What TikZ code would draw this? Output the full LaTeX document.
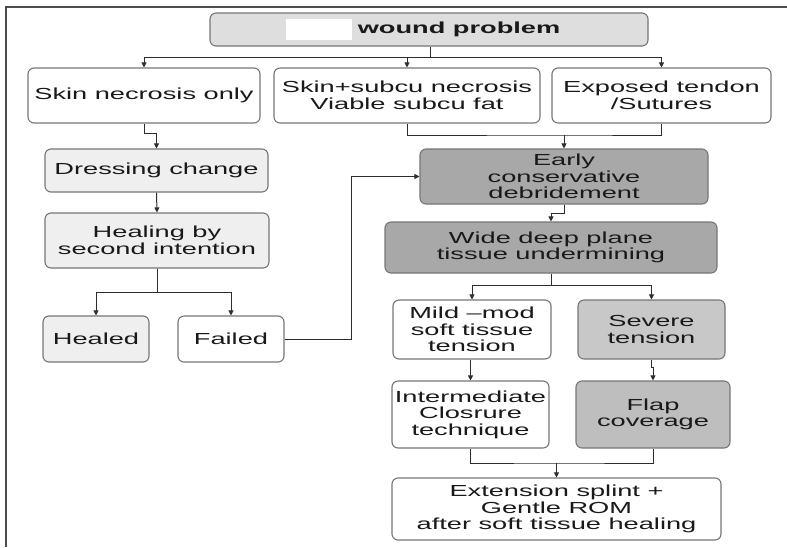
\documentclass[tikz,border=0pt]{standalone}
\usepackage{fontspec}
\setmainfont{Liberation Sans}[FakeStretch=1.7]
\usepackage{tikz}
\usetikzlibrary{arrows.meta}
\definecolor{boxline}{RGB}{118,118,118}
\definecolor{wireclr}{RGB}{45,45,45}
\definecolor{topfill}{RGB}{222,222,222}
\definecolor{lightfill}{RGB}{239,239,239}
\definecolor{darkfill}{RGB}{168,168,168}
\definecolor{midfill}{RGB}{200,200,200}
\definecolor{flapfill}{RGB}{190,190,190}

\begin{document}
\begin{tikzpicture}[x=1pt,y=1pt,yscale=-1,
  box/.style={draw=boxline,line width=1.1pt,rounded corners=6pt,align=center,inner sep=0pt,
    text=black!90,font=\fontsize{16}{16.5}\selectfont},
  link/.style={draw=wireclr,line width=1pt},
  arr/.style={link,-{Triangle[length=5pt,width=5pt]}}]
\useasboundingbox (0,0) rectangle (787,547);

%Frame
\draw [black!70,line width=1.5pt] (6,547) -- (6,7) -- (787,7) ;

% Boxes
\node (top) [box,fill=topfill,minimum width=438,minimum height=33] at (429,29.5) {\hspace*{60pt}\textbf{wound problem}};
\fill [white] (286,19) rectangle (352,40) ;
\node (skin) [box,fill=white,minimum width=232,minimum height=55] at (144,95.5) {Skin necrosis only};
\node (subcu) [box,fill=white,minimum width=266,minimum height=55] at (407,95.5) {Skin+subcu necrosis\\Viable subcu fat};
\node (tendon) [box,fill=white,minimum width=219,minimum height=55] at (661.5,95.5) {Exposed tendon\\/Sutures};
\node (dress) [box,fill=lightfill,minimum width=223,minimum height=43] at (156.5,170.5) {Dressing change};
\node (second) [box,fill=lightfill,minimum width=224,minimum height=55] at (157,240.5) {Healing by\\second intention};
\node (healed) [box,fill=lightfill,minimum width=106,minimum height=46] at (96,339) {Healed};
\node (failed) [box,fill=white,minimum width=106,minimum height=46] at (231,339) {Failed};
\node (early) [box,fill=darkfill,minimum width=288,minimum height=55] at (564,176.5) {Early\\conservative\\debridement};
\node (wide) [box,fill=darkfill,minimum width=332,minimum height=51] at (551,247.5) {Wide deep plane\\tissue undermining};
\node (mild) [box,fill=white,minimum width=158,minimum height=59] at (472,329.5) {Mild --mod\\soft tissue\\tension};
\node (severe) [box,fill=midfill,minimum width=147,minimum height=59] at (651.5,329.5) {Severe\\tension};
\node (inter) [box,fill=white,minimum width=157,minimum height=67] at (470.5,414.5) {Intermediate\\Closrure\\technique};
\node (flap) [box,fill=flapfill,minimum width=154,minimum height=67] at (653,414.5) {Flap\\coverage};
\node (ext) [box,fill=white,minimum width=329,minimum height=62] at (556.5,509) {Extension splint +\\Gentle ROM\\after soft tissue healing};

% Connectors
\coordinate (fork1) at (430,57);
\draw [link] (top.south -| fork1) -- (fork1) ;
\draw [arr] (fork1) -| (skin.north) ;
\draw [arr] (fork1) -| (subcu.north) ;
\draw [arr] (fork1) -| (tendon.north) ;

\draw [arr] (skin.south) -- ++(0,10) -| (dress.north) ;
\draw [arr] (dress.south) -- (second.north) ;

\coordinate (fork2) at (157,292);
\draw [link] (second.south) -- (fork2) ;
\draw [arr] (fork2) -| (healed.north) ;
\draw [arr] (fork2) -| (failed.north) ;
\draw [arr] (failed.east) -- ++(67,0) |- (early.west) ;

\coordinate (join1) at (564,135);
\draw [link] (subcu.south) |- (join1) -| (tendon.south) ;
\draw [arr] (join1) -- (early.north) ;

\draw [arr] (early.south) -- ++(0,9) -| (wide.north) ;

\coordinate (fork3) at (551,285);
\draw [link] (wide.south) -- (fork3) ;
\draw [arr] (fork3) -| (mild.north) ;
\draw [arr] (fork3) -| (severe.north) ;

\draw [arr] (inter.north |- mild.south) -- (inter.north) ;
\draw [arr] (severe.south) -- ++(0,8) -| (flap.north) ;

\coordinate (join2) at (556.5,463);
\draw [link] (inter.south) |- (join2) -| (flap.south) ;
\draw [arr] (join2) -- (ext.north) ;

\end{tikzpicture}
\end{document}
